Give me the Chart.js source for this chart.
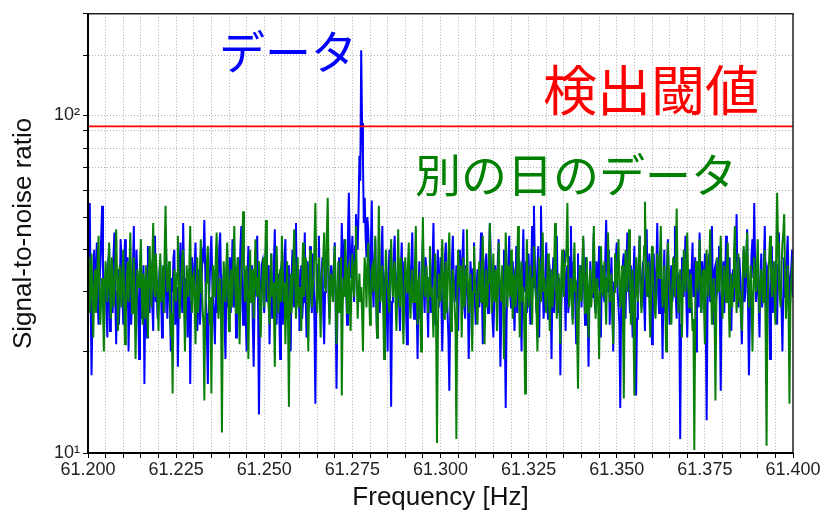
<!DOCTYPE html>
<html>
<head>
<meta charset="utf-8">
<script src="https://cdn.jsdelivr.net/npm/chart.js@4/dist/chart.umd.min.js"></script>
<style>
  html, body { margin: 0; padding: 0; background: #fff; }
  #wrap { width: 823px; height: 515px; }
</style>
</head>
<body>
<div id="wrap"><canvas id="snr" width="823" height="515"></canvas></div>
<script>
// Frequency bins: 61.200 Hz to 61.400 Hz, 0.00025 Hz apart
const freqStart = 61.2;
const freqStep = 0.00025;

// Signal-to-noise ratio, today's run (blue)
const snrToday = [
  38,47,55,29,17,25,34,40,29,33,42,28,24,31,36,44,54,35,27,30,33,26,22,37,40,23,30,34,26,39,45,28,21,30,35,24,28,43,38,31,
  24,33,43,26,31,38,20,28,36,24,29,35,47,30,25,40,33,27,19,32,39,25,28,36,16,29,34,22,41,31,26,37,31,27,23,36,44,28,30,25,
  27,34,37,29,22,30,33,26,46,36,25,32,35,27,20,33,30,38,40,24,28,31,18,27,36,42,31,26,48,33,24,30,33,22,27,35,16,28,38,33,
  29,36,42,31,23,28,35,24,27,33,39,38,49,35,26,22,16,27,32,39,44,33,28,25,21,30,37,26,30,41,45,32,25,29,34,24,19,31,40,27,
  31,38,26,34,43,27,29,36,22,30,38,26,33,41,47,29,24,31,35,25,20,33,41,30,28,35,36,24,18,28,32,38,44,27,13,24,30,36,37,29,
  26,33,42,28,31,36,21,30,39,25,28,37,46,29,24,31,34,26,19,35,37,24,29,38,43,28,25,36,32,27,20,33,40,30,27,37,48,29,30,35,
  23,31,36,25,28,34,45,29,22,37,33,27,41,32,26,39,35,24,14,28,31,36,44,30,27,33,38,26,21,30,34,40,47,29,25,33,36,31,29,36,
  42,28,15.5,26,33,38,27,34,48,37,30,43,39,31,24,45,59,42,33,37,44,35,28,41,51,46,40,52,76,64,156,95,74,48,57,44,38,50,46,35,
  30,41,56,33,27,36,43,29,22,31,38,26,31,38,47,30,25,33,35,27,20,34,40,24,13.7,28,33,39,44,31,27,33,36,28,23,35,42,30,29,37,
  34,26,21,30,39,33,28,37,45,29,25,36,32,27,19,30,37,25,30,35,43,31,26,38,35,28,22,33,40,26,29,37,48,32,24,29,33,40,27,31,
  38,29,20,27,34,38,42,31,26,22,15.3,26,31,37,44,33,28,30,36,28,23,32,40,35,30,39,46,27,25,36,33,29,19,26,37,33,29,35,42,28,
  24,31,35,29,27,36,45,30,21,28,32,37,39,33,26,35,48,38,30,25,22,29,36,32,28,37,43,27,18,26,34,30,40,23,13.6,25,31,37,44,30,
  27,33,37,28,23,31,41,26,29,38,35,27,20,34,46,30,31,37,26,33,39,29,24,36,47,31,54,38,30,26,36,41,22,35,54,37,33,25,28,34,
  42,30,25,37,35,28,19,32,38,26,30,35,44,29,26,33,17,27,33,36,40,31,23,34,36,26,29,38,47,30,25,37,34,27,21,32,39,28,31,36,
  27,34,43,31,24,38,35,26,18,29,37,30,29,36,45,28,26,37,33,31,41,27,22,33,36,30,28,38,49,35,30,40,24,31,38,27,20,32,34,38,
  42,30,27,24,13.6,28,33,37,39,31,25,36,45,33,30,26,36,29,22,34,41,27,14.8,25,32,38,44,30,27,33,37,28,23,35,46,30,29,39,35,27,
  21,32,39,27,31,36,48,30,26,37,34,29,19,31,40,26,28,35,43,30,24,33,36,28,30,38,47,29,25,34,33,26,11,24,38,31,29,36,44,28,
  22,30,35,26,27,35,42,29,31,38,20,31,37,27,45,34,26,37,33,28,39,25,12.5,27,34,39,28,33,47,30,24,35,36,29,30,37,41,26,15.3,29,
  33,37,26,32,44,30,29,36,38,27,23,33,35,28,42,37,51,31,27,38,34,26,21,32,40,28,30,37,46,27,17,25,32,39,43,33,55,36,28,31,
  36,29,22,33,39,27,31,37,47,30,25,35,34,28,19,31,41,26,29,34,37,30,24,36,45,32,30,27,20,30,38,29,33,38,44,31,26,33,35,40,29
];

// Signal-to-noise ratio, run from another day (green)
const snrOtherDay = [
  31,38,26,33,39,28,22,31,35,26,29,37,44,30,24,29,33,27,20,31,37,33,28,35,42,30,25,38,34,27,30,36,46,33,23,29,36,31,27,34,
  40,29,21,27,33,37,28,34,45,32,26,30,38,28,19,27,35,33,31,36,43,29,24,34,30,25,36,30,22,33,41,32,27,37,48,31,29,39,34,28,
  23,32,39,28,31,36,26,40,54,37,30,33,37,29,22,26,15,29,35,31,28,34,44,33,25,30,33,38,40,29,20,27,36,31,29,36,47,30,26,33,
  34,28,21,30,38,26,30,35,43,33,27,24,14.3,26,32,37,41,30,24,29,15,27,36,31,29,38,45,33,25,29,33,24,11.5,27,37,32,28,36,42,30,
  23,31,35,27,30,38,47,32,26,34,38,29,21,30,34,40,52,37,28,33,36,27,19,30,40,28,31,35,25,34,43,31,29,33,37,26,22,30,33,38,
  27,36,49,34,30,27,24,33,39,29,32,26,18,31,41,33,26,30,35,28,44,35,28,32,21,29,37,24,13.7,28,34,26,30,37,46,33,25,30,38,27,
  29,31,23,33,42,29,31,38,36,27,20,30,40,34,27,31,33,42,55,37,26,30,38,29,22,33,35,38,45,31,30,44,57,35,24,29,34,31,28,36,
  41,30,21,28,37,26,30,38,14.8,27,33,29,43,31,26,35,36,28,23,32,39,31,29,37,47,33,25,30,34,28,31,26,20,31,38,34,27,36,42,30,
  24,29,35,36,30,33,44,28,22,31,54,37,28,32,36,27,19,29,40,33,31,28,26,36,43,32,29,35,37,28,23,31,46,30,27,38,33,26,21,30,
  38,33,30,35,42,29,25,31,35,28,28,36,47,30,24,32,33,26,20,33,50,34,29,31,36,30,26,33,41,29,31,27,22,31,39,24,10.7,22,34,29,
  28,35,43,31,25,33,37,26,30,38,45,29,23,30,35,32,27,24,11,28,40,33,31,36,22,30,38,27,29,35,46,32,26,31,34,27,20,30,41,33,
  30,27,24,32,37,31,28,35,44,30,21,29,35,27,32,38,48,34,26,31,39,28,29,35,23,30,42,33,31,28,36,29,19,30,45,34,27,36,33,29,
  40,31,25,33,34,27,29,36,47,30,22,31,37,28,31,24,15,27,43,32,27,31,36,29,24,33,41,34,30,26,20,29,38,33,28,35,45,30,33,28,
  26,32,39,29,23,31,35,27,30,36,48,32,25,30,34,28,21,33,40,31,29,36,37,41,55,34,27,30,33,29,24,35,42,30,31,23,15.5,26,36,30,
  28,36,44,33,26,30,38,29,22,31,35,27,30,38,47,32,25,30,33,27,19,30,41,34,29,33,37,29,24,33,45,36,28,31,34,26,21,30,39,35,
  31,36,43,32,27,31,36,26,14.5,29,40,35,30,37,46,33,24,30,35,24,14.8,28,38,31,28,36,44,33,26,29,33,41,55.5,38,29,32,37,28,22,30,
  41,34,30,27,25,31,39,35,33,38,47,33,27,30,36,28,20,31,42,35,31,27,24,31,38,33,29,37,53,34,26,29,35,28,22,31,40,35,30,37,
  45,33,27,30,34,28,23,25,10.2,24,37,32,31,35,43,30,26,33,35,27,21,31,40,33,29,36,46,31,24,30,33,26,14.3,27,38,33,30,36,44,31,
  25,30,36,33,28,35,42,29,22,30,34,27,31,38,47,33,26,31,39,28,29,25,23,33,41,37,33,39,45,32,27,31,36,28,20,29,38,33,30,35,
  43,31,26,30,35,33,28,35,40,22,10.5,26,33,38,44,36,29,33,37,30,24,40,59,42,31,29,27,35,42,45,51,33,25,30,36,26,14,27,32,35,38
];

// Detection threshold (red line)
const detectionThreshold = 92.8;

// Axis range and labelled ticks
const freqRange = [61.2, 61.4];
const snrRange = [10, 200];
const xTickLabels = ['61.200','61.225','61.250','61.275','61.300','61.325','61.350','61.375','61.400'];
const yTickLabels = { 10: '10\u00B9', 100: '10\u00B2' };

const toPoints = arr => arr.map((v, i) => ({ x: freqStart + i * freqStep, y: v }));

const tickFont = { family: "'Liberation Sans', Arial, sans-serif", size: 18 };
const titleFont = { family: "'Liberation Sans', Arial, sans-serif", size: 26 };

// Outer frame of the plot area plus the coloured captions
const framePlugin = {
  id: 'frame',
  afterDatasetsDraw(chart) {
    const { ctx } = chart;
    ctx.save();
    ctx.font = "46px 'Noto Sans CJK JP'";
    ctx.textBaseline = 'middle';
    ctx.fillStyle = '#0000ff';
    ctx.textAlign = 'left';
    ctx.fillText('データ', 219, 52);
    ctx.font = "54px 'Noto Sans CJK JP'";
    ctx.fillStyle = '#ff0000';
    ctx.textAlign = 'right';
    ctx.fillText('検出閾値', 759, 90);
    ctx.font = "46px 'Noto Sans CJK JP'";
    ctx.fillStyle = '#008000';
    ctx.textAlign = 'left';
    ctx.fillText('別の日のデータ', 415, 175);
    ctx.restore();
  },
  afterDraw(chart) {
    const { ctx, chartArea: a } = chart;
    ctx.save();
    ctx.strokeStyle = '#222';
    ctx.lineWidth = 1.5;
    ctx.beginPath();
    ctx.moveTo(a.left, a.top);
    ctx.lineTo(a.right, a.top);
    ctx.lineTo(a.right, a.bottom);
    ctx.stroke();
    ctx.strokeStyle = '#000';
    ctx.lineWidth = 2;
    ctx.beginPath();
    ctx.moveTo(a.left, a.top);
    ctx.lineTo(a.left, a.bottom);
    ctx.lineTo(a.right, a.bottom);
    ctx.stroke();
    ctx.restore();
  }
};

new Chart(document.getElementById('snr'), {
  type: 'line',
  data: {
    datasets: [
      {
        label: 'threshold',
        data: [{ x: freqRange[0], y: detectionThreshold }, { x: freqRange[1], y: detectionThreshold }],
        borderColor: '#ff0000',
        borderWidth: 1.6,
        pointRadius: 0,
        order: 0
      },
      {
        label: 'other day',
        data: toPoints(snrOtherDay),
        borderColor: '#0a800a',
        borderWidth: 2,
        pointRadius: 0,
        order: 1
      },
      {
        label: 'today',
        data: toPoints(snrToday),
        borderColor: '#0000ff',
        borderWidth: 2,
        pointRadius: 0,
        order: 2
      }
    ]
  },
  options: {
    responsive: false,
    animation: false,
    events: [],
    layout: { padding: { left: 0, right: 30, top: 10, bottom: 0 } },
    plugins: { legend: { display: false }, tooltip: { enabled: false } },
    elements: { line: { tension: 0 } },
    scales: {
      x: {
        type: 'linear',
        min: freqRange[0],
        max: freqRange[1],
        afterFit(s) { s.height = 62; },
        ticks: {
          stepSize: 0.005,
          autoSkip: false,
          maxRotation: 0,
          padding: 1,
          color: '#222',
          font: tickFont,
          callback(v) {
            const t = v.toFixed(3);
            return xTickLabels.includes(t) ? t : '';
          }
        },
        grid: {
          color: '#b0b0b0',
          lineWidth: 1,
          tickColor: '#000',
          tickLength: 5,
          tickBorderDash: []
        },
        border: { display: true, color: '#000', width: 1, dash: [1, 2] },
        title: {
          display: true,
          text: 'Frequency [Hz]',
          color: '#111',
          font: titleFont,
          padding: { top: 2, bottom: 2 }
        }
      },
      y: {
        type: 'logarithmic',
        min: snrRange[0],
        max: snrRange[1],
        afterFit(s) { s.width = 88; },
        ticks: {
          autoSkip: false,
          padding: 3,
          color: '#222',
          font: tickFont,
          callback(v) { return yTickLabels[v] || ''; }
        },
        grid: {
          color: '#b0b0b0',
          lineWidth: 1,
          tickColor: '#000',
          tickLength: 5,
          tickBorderDash: []
        },
        border: { display: true, color: '#000', width: 1, dash: [1, 2] },
        title: {
          display: true,
          text: 'Signal-to-noise ratio',
          color: '#111',
          font: titleFont,
          padding: { top: 8, bottom: 8 }
        }
      }
    }
  },
  plugins: [framePlugin]
});
</script>
</body>
</html>
